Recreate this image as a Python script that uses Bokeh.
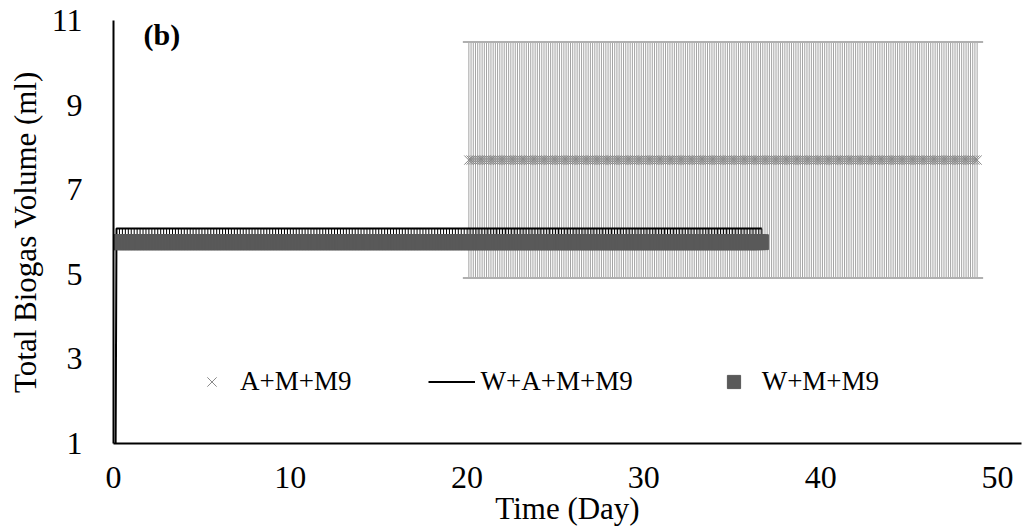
import numpy as np
from bokeh.plotting import figure
from bokeh.models import ColumnDataSource, Legend, LegendItem, Label, Whisker, TeeHead
from bokeh.embed import file_html
from bokeh.resources import INLINE

# ---- data ----
x_ticks = [0, 10, 20, 30, 40, 50]
y_ticks = [1, 3, 5, 7, 9, 11]
names = ["A+M+M9", "W+A+M+M9", "W+M+M9"]

# A+M+M9 : flat mean with large error bars, day ~20.1 to ~48.9 (3-hourly readings)
a_time = np.round(np.arange(20.1, 48.91, 1 / 8), 3)
a_value = [7.7] * len(a_time)
a_err = [2.79] * len(a_time)

# W+A+M+M9 : starts at 1 ml then flat, to day ~36.7 (4-hourly readings)
wa_time = [0.12] + list(np.round(np.arange(0.17, 36.75, 1 / 6), 3))
wa_value = [1.0] + [6.08] * (len(wa_time) - 1)
wa_err_low = [0.0] + [0.3] * (len(wa_time) - 1)

# W+M+M9 : flat, to day ~36.7 (4-hourly readings)
wm_time = np.round(np.arange(0.12, 36.75, 1 / 6), 3)
wm_value = [5.76] * len(wm_time)

FONT = "Liberation Serif"

src_a = ColumnDataSource(dict(t=a_time, v=a_value,
                              lo=[v - e for v, e in zip(a_value, a_err)],
                              hi=[v + e for v, e in zip(a_value, a_err)]))
src_wa = ColumnDataSource(dict(t=wa_time, v=wa_value,
                               lo=[v - e for v, e in zip(wa_value, wa_err_low)]))
src_wm = ColumnDataSource(dict(t=wm_time, v=wm_value))

p = figure(width=1022, height=531,
           min_border_left=113, min_border_right=1, min_border_top=20, min_border_bottom=88,
           x_range=(0, 51.36), y_range=(1, 11),
           output_backend="svg", toolbar_location=None)
p.outline_line_color = None
p.xgrid.visible = False
p.ygrid.visible = False
p.background_fill_color = "white"
p.border_fill_color = "white"

# A+M+M9 error bars
wh = Whisker(source=src_a, base="t", lower="lo", upper="hi",
             line_color="#a3a3a3", line_width=1,
             upper_head=TeeHead(size=12, line_color="#b0b0b0", line_width=2),
             lower_head=TeeHead(size=12, line_color="#b0b0b0", line_width=2))
p.add_layout(wh)
r_a = p.scatter("t", "v", source=src_a, marker="x", size=13,
                line_color="#8a8a8a", line_width=1)

# W+A+M+M9 lower error ticks and line
p.segment(x0="t", y0="v", x1="t", y1="lo", source=src_wa, line_color="black", line_width=1)
r_wa = p.line("t", "v", source=src_wa, line_color="black", line_width=2)

# W+M+M9 squares
r_wm = p.scatter("t", "v", source=src_wm, marker="square", size=15,
                 fill_color="#595959", line_color="#595959")

# axes
for ax in (p.xaxis[0], p.yaxis[0]):
    ax.axis_line_color = "black"
    ax.axis_line_width = 2
    ax.major_tick_out = 0
    ax.major_tick_in = 0
    ax.minor_tick_out = 0
    ax.minor_tick_in = 0
    ax.major_label_text_font = FONT
    ax.major_label_text_font_size = "32px"
    ax.major_label_text_color = "black"
    ax.axis_label_text_font = FONT
    ax.axis_label_text_font_size = "31px"
    ax.axis_label_text_font_style = "normal"
    ax.axis_label_text_color = "black"

p.xaxis.ticker = x_ticks
p.yaxis.ticker = y_ticks
p.xaxis.axis_label = "Time (Day)"
p.yaxis.axis_label = "Total Biogas Volume (ml)"
p.xaxis.major_label_standoff = 23
p.xaxis.axis_label_standoff = 0
p.yaxis.major_label_standoff = 31
p.yaxis.axis_label_standoff = 6

legend = Legend(items=[LegendItem(label=names[0], renderers=[r_a]),
                       LegendItem(label=names[1], renderers=[r_wa]),
                       LegendItem(label=names[2], renderers=[r_wm])],
                orientation="horizontal", location=(75, 45),
                label_text_font=FONT, label_text_font_size="27px", label_text_color="black",
                glyph_width=47, glyph_height=33, label_height=33, label_standoff=5,
                spacing=77, padding=0, margin=0,
                border_line_color=None, background_fill_alpha=0)
p.add_layout(legend)

p.add_layout(Label(x=1.7, y=10.67, text="(b)", text_font=FONT, text_font_size="30px",
                   text_font_style="bold", text_baseline="middle", text_align="left",
                   text_color="black"))

open("out.html", "w").write(file_html(p, INLINE))
